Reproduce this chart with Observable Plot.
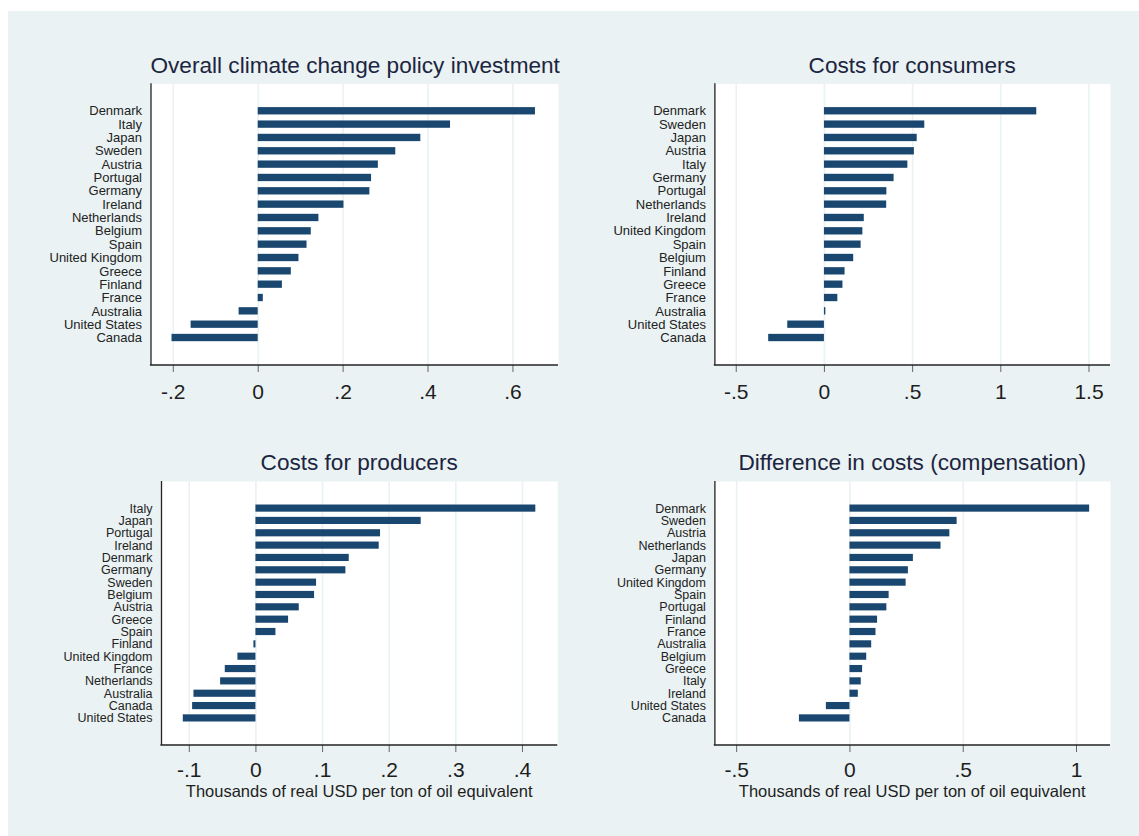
<!DOCTYPE html>
<html>
<head>
<meta charset="utf-8">
<script src="https://cdn.jsdelivr.net/npm/d3@7"></script>
<script src="https://cdn.jsdelivr.net/npm/@observablehq/plot@0.6"></script>
<style>
  html, body { margin: 0; padding: 0; background: #ffffff; }
  #root { position: relative; width: 1139px; height: 836px; overflow: hidden; font-family: "Liberation Sans", Arial, sans-serif; }
  #bg { position: absolute; left: 8px; top: 11px; width: 1131px; height: 825px; background: #eaf2f3; }
  .panel { position: absolute; }
  .title { position: absolute; text-align: center; font-size: 22.6px; line-height: 23px; color: #1c2540; white-space: nowrap; }
  .xtitle { position: absolute; text-align: center; font-size: 16.5px; line-height: 16.5px; color: #1e1e1e; white-space: nowrap; }
</style>
</head>
<body>
<div id="root"><div id="bg"></div></div>
<script>
// ---- Data ----
const overallCountries = ["Denmark","Italy","Japan","Sweden","Austria","Portugal","Germany","Ireland","Netherlands","Belgium","Spain","United Kingdom","Greece","Finland","France","Australia","United States","Canada"];
const overallValues = [0.653,0.453,0.383,0.324,0.283,0.267,0.263,0.202,0.143,0.125,0.115,0.096,0.078,0.057,0.012,-0.045,-0.158,-0.203];

const consumerCountries = ["Denmark","Sweden","Japan","Austria","Italy","Germany","Portugal","Netherlands","Ireland","United Kingdom","Spain","Belgium","Finland","Greece","France","Australia","United States","Canada"];
const consumerValues = [1.204,0.569,0.526,0.510,0.473,0.395,0.354,0.353,0.226,0.218,0.208,0.166,0.117,0.105,0.076,0.008,-0.208,-0.316];

const producerCountries = ["Italy","Japan","Portugal","Ireland","Denmark","Germany","Sweden","Belgium","Austria","Greece","Spain","Finland","United Kingdom","France","Netherlands","Australia","Canada","United States"];
const producerValues = [0.420,0.248,0.187,0.185,0.140,0.135,0.091,0.088,0.065,0.049,0.030,-0.003,-0.027,-0.046,-0.053,-0.093,-0.095,-0.109];

const diffCountries = ["Denmark","Sweden","Austria","Netherlands","Japan","Germany","United Kingdom","Spain","Portugal","Finland","France","Australia","Belgium","Greece","Italy","Ireland","United States","Canada"];
const diffValues = [1.058,0.473,0.441,0.402,0.280,0.258,0.248,0.173,0.163,0.122,0.115,0.096,0.074,0.056,0.050,0.037,-0.104,-0.223];

const titles = ["Overall climate change policy investment","Costs for consumers","Costs for producers","Difference in costs (compensation)"];
const xAxisTitle = "Thousands of real USD per ton of oil equivalent";

const ticksOverall = [-0.2, 0, 0.2, 0.4, 0.6];
const ticksConsumer = [-0.5, 0, 0.5, 1, 1.5];
const ticksProducer = [-0.1, 0, 0.1, 0.2, 0.3, 0.4];
const ticksDiff = [-0.5, 0, 0.5, 1];

// ---- Style ----
const barColor = "#1a476f";
const gridColor = "#eaf2f3";
const stataFormat = d => d === 0 ? "0" : String(d).replace(/^(-?)0\./, "$1.");

const root = document.getElementById("root");

function panel(cfg) {
  const data = cfg.countries.map((c, i) => ({country: c, value: cfg.values[i]}));
  const svg = Plot.plot({
    width: cfg.width,
    height: cfg.height,
    marginLeft: cfg.margin[3],
    marginRight: cfg.margin[1],
    marginTop: cfg.margin[0],
    marginBottom: cfg.margin[2],
    style: {fontFamily: "'Liberation Sans', Arial, sans-serif", background: "transparent", overflow: "visible"},
    x: {domain: cfg.xDomain},
    y: {domain: cfg.countries, paddingInner: cfg.pi, paddingOuter: cfg.po, align: 0.5, round: false},
    marks: [
      Plot.frame({fill: "white", stroke: "none"}),
      Plot.ruleX(cfg.ticks, {stroke: gridColor, strokeWidth: 1.6}),
      Plot.barX(data, {x: "value", y: "country", fill: barColor}),
      Plot.ruleX([cfg.xDomain[0]], {stroke: "#222", strokeWidth: 1.3}),
      Plot.axisX({ticks: cfg.ticks, tickFormat: stataFormat, tickSize: 7, tickPadding: cfg.tickPad, fontSize: 21, stroke: "#666", fill: "#1e1e1e", label: null}),
      Plot.axisY({tickSize: 0, tickPadding: 9, fontSize: cfg.labelSize, fill: "#222", label: null})
    ]
  });
  const xs = svg.scale("x"), ys = svg.scale("y");
  const x0 = Math.min(...xs.range), x1 = Math.max(...xs.range);
  const yb = Math.max(...ys.range);
  d3.select(svg).append("line")
    .attr("x1", x0 - 0.6).attr("x2", x1).attr("y1", yb).attr("y2", yb)
    .attr("stroke", "#222").attr("stroke-width", 1.3);
  const holder = document.createElement("div");
  holder.className = "panel";
  holder.style.left = cfg.left + "px";
  holder.style.top = cfg.top + "px";
  holder.appendChild(svg);
  root.appendChild(holder);

  const plotLeft = cfg.left + cfg.margin[3];
  const plotWidth = cfg.width - cfg.margin[3] - cfg.margin[1];
  const t = document.createElement("div");
  t.className = "title";
  t.textContent = cfg.title;
  t.style.left = plotLeft + "px";
  t.style.width = plotWidth + "px";
  t.style.top = cfg.titleTop + "px";
  root.appendChild(t);

  if (cfg.xTitle) {
    const a = document.createElement("div");
    a.className = "xtitle";
    a.textContent = cfg.xTitle;
    a.style.left = plotLeft + "px";
    a.style.width = plotWidth + "px";
    a.style.top = cfg.xTitleTop + "px";
    root.appendChild(a);
  }
}

panel({countries: overallCountries, values: overallValues, xDomain: [-0.2525, 0.7073], ticks: ticksOverall,
  left: 8, top: 75, width: 580, height: 330, margin: [8.3, 30, 40, 142.5], pi: 0.45, po: 1.785, labelSize: 13, tickPad: 11.5,
  title: titles[0], titleTop: 53.5});
panel({countries: consumerCountries, values: consumerValues, xDomain: [-0.621, 1.622], ticks: ticksConsumer,
  left: 580, top: 75, width: 550, height: 330, margin: [8.3, 20, 40, 134.4], pi: 0.45, po: 1.785, labelSize: 13, tickPad: 11.5,
  title: titles[1], titleTop: 53.5});
panel({countries: producerCountries, values: producerValues, xDomain: [-0.1417, 0.453], ticks: ticksProducer,
  left: 8, top: 473, width: 580, height: 340, margin: [8, 30.7, 68, 153], pi: 0.42, po: 1.905, labelSize: 12.5, tickPad: 9.5,
  title: titles[2], titleTop: 451, xTitle: xAxisTitle, xTitleTop: 783});
panel({countries: diffCountries, values: diffValues, xDomain: [-0.596, 1.150], ticks: ticksDiff,
  left: 580, top: 473, width: 550, height: 340, margin: [8, 20, 68, 134.4], pi: 0.42, po: 1.905, labelSize: 12.5, tickPad: 9.5,
  title: titles[3], titleTop: 451, xTitle: xAxisTitle, xTitleTop: 783});
</script>
</body>
</html>
